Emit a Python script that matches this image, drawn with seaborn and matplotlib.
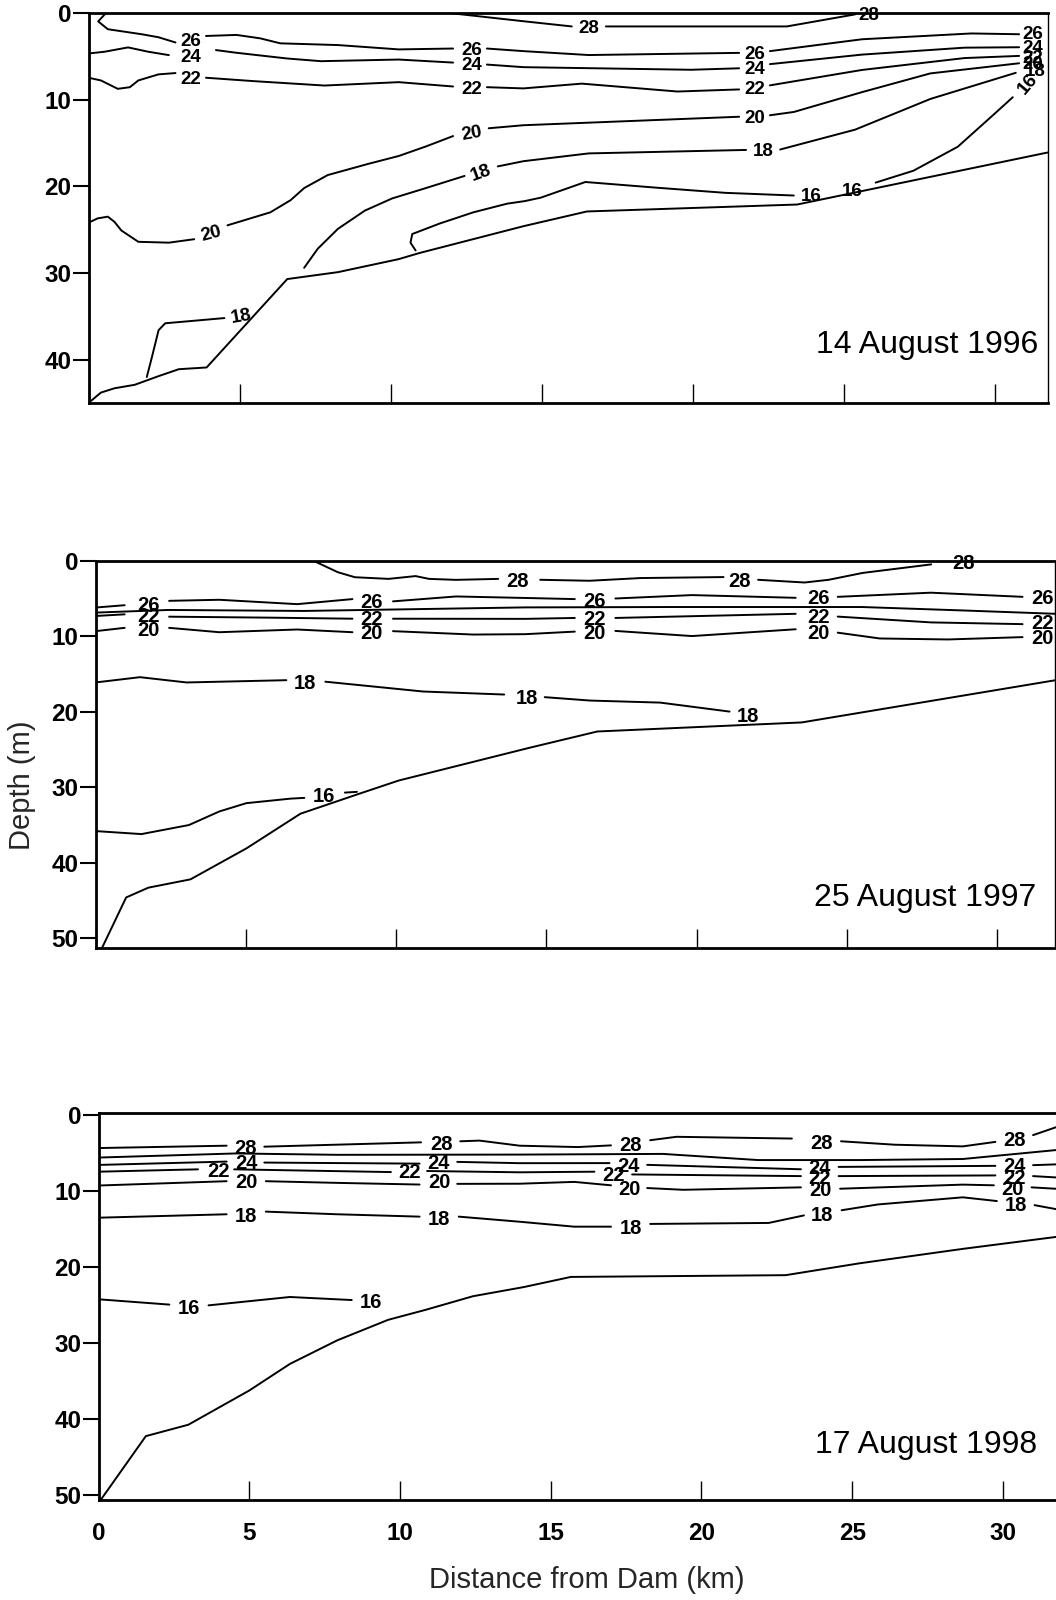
import matplotlib
matplotlib.use("Agg")
import matplotlib.pyplot as plt
import seaborn as sns
import pandas as pd

sns.set_theme(style="white")
plt.rcParams["font.family"] = ["Liberation Sans", "DejaVu Sans"]
LBL_FAMILY = ["Liberation Sans", "DejaVu Sans"]

# ---------------- data: distance (km), depth (m) ----------------
DATES = ["14 August 1996", "25 August 1997", "17 August 1998"]
X_TICKS = [0, 5, 10, 15, 20, 25, 30]
Y_TICKS_1 = [0, 10, 20, 30, 40]
Y_TICKS_23 = [0, 10, 20, 30, 40, 50]

# ---- Panel 1 (1996) ----
P1_BOTTOM = [[(0, 45.0), (0.41, 43.8), (0.86, 43.3), (1.53, 42.9), (2.32, 41.9), (2.99, 41.1),
              (3.91, 40.9), (6.58, 30.7), (8.26, 29.9), (10.27, 28.4), (10.95, 27.7),
              (14.4, 24.6), (16.5, 22.9), (23.46, 22.1), (31.75, 16.1)]]
P1_T28 = [[(11.94, 0), (14.4, 0.95), (16.0, 1.55)],
          [(17.13, 1.55), (23.12, 1.55), (25.38, 0.16)]]
P1_T26 = [[(0.58, 0), (0.32, 0.97), (0.64, 1.87), (1.76, 2.45), (2.32, 2.8), (2.88, 3.4)],
          [(3.89, 2.65), (4.9, 2.53), (5.68, 2.92), (6.35, 3.5), (8.26, 3.7), (10.27, 4.2), (12.07, 4.1)],
          [(13.19, 4.1), (14.4, 4.4), (16.56, 4.85), (21.54, 4.6)],
          [(22.56, 4.4), (25.61, 3.03), (29.23, 2.36), (30.81, 2.45)]]
P1_T24 = [[(0, 4.67), (0.53, 4.47), (1.31, 3.97), (1.98, 4.47), (2.66, 4.86)],
          [(4.22, 4.28), (4.9, 4.59), (6.58, 5.25), (7.7, 5.56), (10.27, 5.37), (12.07, 5.72)],
          [(13.19, 5.95), (14.4, 6.25), (19.95, 6.55), (21.54, 6.38)],
          [(22.56, 5.9), (25.61, 4.8), (29.0, 4.0), (30.81, 3.95)]]
P1_T22 = [[(0, 7.47), (0.41, 7.78), (0.97, 8.75), (1.37, 8.56), (1.65, 7.78), (2.32, 7.08), (2.88, 6.93)],
          [(3.89, 7.47), (5.46, 7.86), (7.81, 8.37), (10.27, 7.98), (12.07, 8.48)],
          [(13.19, 8.56), (14.4, 8.7), (16.33, 8.15), (17.69, 8.54), (19.5, 9.06), (21.54, 8.82)],
          [(22.56, 8.35), (25.61, 6.57), (29.0, 5.2), (30.81, 4.95)]]
P1_T20 = [[(0, 24.2), (0.3, 23.7), (0.64, 23.5), (0.86, 24.1), (1.09, 25.1), (1.65, 26.4), (2.66, 26.5), (3.5, 26.1)],
          [(4.6, 24.5), (6.02, 23.0), (6.69, 21.6), (7.14, 20.2), (7.92, 18.7), (9.27, 17.4),
           (10.27, 16.5), (11.17, 15.4), (12.07, 14.2)],
          [(13.25, 13.3), (14.4, 12.95), (21.54, 11.97)],
          [(22.56, 11.8), (23.35, 11.42), (25.61, 9.13), (27.87, 6.97), (30.81, 5.8)]]
P1_T18 = [[(7.14, 29.4), (7.59, 27.2), (8.26, 24.9), (9.15, 22.8), (10.05, 21.4), (11.17, 20.2), (12.45, 18.8)],
          [(13.55, 17.7), (14.4, 17.1), (16.56, 16.2), (21.77, 15.8)],
          [(22.9, 15.75), (25.38, 13.46), (27.87, 9.92), (30.7, 6.9)],
          [(1.93, 42.0), (2.1, 39.7), (2.32, 36.6), (2.54, 35.8), (3.2, 35.6), (4.5, 35.2)]]
P1_T16 = [[(10.83, 27.4), (10.66, 26.5), (10.72, 25.5), (11.62, 24.3), (12.74, 23.0), (13.86, 22.0),
           (14.45, 21.7), (14.98, 21.3), (16.45, 19.5), (18.82, 20.16), (21.08, 20.75), (23.35, 21.06)],
          [(26.06, 19.57), (27.31, 18.2), (28.78, 15.43), (29.91, 11.9), (30.6, 9.72)]]
P1_LABELS = [(16.55, 1.6, "28", 0), (25.85, 0.0, "28", 0),
             (3.38, 3.05, "26", 0), (12.68, 4.1, "26", 0), (22.05, 4.55, "26", 0), (31.25, 2.3, "26", 0),
             (3.38, 4.9, "24", 0), (12.68, 5.84, "24", 0), (22.05, 6.3, "24", 0), (31.25, 3.85, "24", 0),
             (3.38, 7.4, "22", 0), (12.68, 8.64, "22", 0), (22.05, 8.6, "22", 0), (31.25, 4.97, "22", 0),
             (4.06, 25.3, "20", 15), (12.68, 13.7, "20", 10), (22.05, 11.97, "20", 0), (31.25, 5.75, "20", 0),
             (12.99, 18.3, "18", 20), (22.33, 15.8, "18", 0), (31.35, 6.55, "18", 0), (5.04, 34.8, "18", 10),
             (23.92, 20.94, "16", 0), (25.27, 20.35, "16", 0), (31.05, 8.1, "16", 50)]

# ---- Panel 2 (1997) ----
P2_BOTTOM = [[(0.18, 51.6), (1.02, 44.6), (1.76, 43.3), (3.16, 42.2), (5.02, 38.1), (6.82, 33.5),
              (8.74, 30.9), (10.09, 29.1), (14.4, 24.8), (16.7, 22.6), (23.5, 21.4), (31.95, 15.8)]]
P2_T28 = [[(7.27, 0), (8.06, 1.48), (8.63, 2.15), (9.75, 2.37), (10.65, 2.0), (11.1, 2.37), (12.0, 2.5), (13.4, 2.37)],
          [(14.8, 2.49), (16.44, 2.62), (18.14, 2.26), (20.9, 2.13)],
          [(22.05, 2.49), (23.6, 2.85), (24.4, 2.49), (25.53, 1.58), (27.81, 0.45)]]
P2_T26 = [[(0, 6.17), (0.97, 5.86)],
          [(2.45, 5.28), (4.12, 5.14), (6.71, 5.72), (8.55, 5.05)],
          [(9.9, 5.35), (12.0, 4.7), (14.3, 4.9), (15.95, 5.05)],
          [(17.3, 4.97), (19.85, 4.52), (23.3, 4.88)],
          [(24.7, 4.75), (27.8, 4.2), (30.85, 4.75)]]
P2_T24 = [[(0, 6.84), (2.43, 6.49), (6.94, 6.62), (14.3, 6.15), (19.1, 6.1), (25.5, 6.1), (28.9, 6.56), (31.95, 7.0)]]
P2_T22 = [[(0, 7.29), (0.97, 7.07)],
          [(2.45, 7.38), (5.81, 7.51), (8.55, 7.65)],
          [(9.9, 7.65), (14.3, 7.67), (15.95, 7.55)],
          [(17.3, 7.55), (23.3, 7.0)],
          [(24.7, 7.37), (27.81, 8.14), (30.85, 8.37)]]
P2_T20 = [[(0, 9.3), (0.97, 8.86)],
          [(2.45, 8.86), (4.12, 9.44), (6.71, 9.08), (8.55, 9.44)],
          [(9.9, 9.3), (12.57, 9.75), (14.3, 9.7), (15.95, 9.36)],
          [(17.3, 9.27), (19.85, 9.95), (23.3, 9.05)],
          [(24.7, 9.5), (26.1, 10.27), (28.37, 10.4), (30.85, 10.09)]]
P2_T18 = [[(0, 16.1), (1.48, 15.4), (3.03, 16.1), (6.35, 15.8)],
          [(7.65, 16.0), (10.9, 17.3), (13.6, 17.7)],
          [(14.95, 18.05), (16.46, 18.5), (18.79, 18.77), (21.1, 19.96)]]
P2_T16 = [[(0, 35.8), (1.53, 36.2), (3.11, 35.0), (4.12, 33.2), (5.02, 32.1), (6.49, 31.5), (6.95, 31.4)],
          [(8.3, 30.7), (8.7, 30.6)]]
P2_LABELS = [(14.05, 2.4, "28", 0), (21.44, 2.4, "28", 0), (28.89, 0.1, "28", 0),
             (1.76, 5.6, "26", 0), (9.19, 5.2, "26", 0), (16.61, 5.1, "26", 0), (24.06, 4.75, "26", 0), (31.5, 4.7, "26", 0),
             (1.76, 7.1, "22", 0), (9.19, 7.5, "22", 0), (16.61, 7.5, "22", 0), (24.06, 7.2, "22", 0), (31.5, 8.0, "22", 0),
             (1.76, 8.9, "20", 0), (9.19, 9.4, "20", 0), (16.61, 9.3, "20", 0), (24.06, 9.3, "20", 0), (31.5, 9.95, "20", 0),
             (6.97, 16.0, "18", 0), (14.35, 18.0, "18", 0), (21.72, 20.4, "18", 0),
             (7.6, 31.0, "16", 0)]

# ---- Panel 3 (1998) ----
P3_BOTTOM = [[(0, 51.0), (1.57, 42.2), (2.98, 40.7), (5.0, 36.2), (6.35, 32.7), (7.92, 29.6), (9.61, 26.9),
              (10.84, 25.6), (12.42, 23.8), (14.1, 22.6), (15.67, 21.26), (22.79, 21.03), (25.26, 19.46),
              (28.67, 17.57), (31.96, 15.9)]]
P3_T28 = [[(0, 4.31), (4.25, 4.0)],
          [(5.5, 4.13), (10.7, 3.56)],
          [(12.0, 3.42), (12.64, 3.33), (13.97, 4.0), (15.9, 4.18), (17.0, 3.96)],
          [(18.3, 3.28), (19.17, 2.83), (23.0, 3.06)],
          [(24.63, 3.42), (26.41, 3.87), (28.67, 4.09), (29.75, 3.5)],
          [(31.0, 2.61), (31.96, 1.3)]]
P3_T26 = [[(0, 5.56), (4.55, 5.02), (7.92, 5.2), (13.97, 5.17), (18.72, 5.08), (21.88, 5.89),
           (25.26, 5.89), (28.67, 5.75), (31.96, 4.5)]]
P3_T24 = [[(0, 6.53), (4.25, 6.09)],
          [(5.5, 6.22), (10.65, 6.36)],
          [(11.9, 6.13), (13.97, 6.3), (16.95, 6.29)],
          [(18.2, 6.52), (23.3, 7.1)],
          [(24.55, 6.79), (29.75, 6.65)],
          [(31.0, 6.56), (31.96, 6.43)]]
P3_T22 = [[(0, 7.42), (3.3, 7.11)],
          [(4.5, 7.11), (9.7, 7.47)],
          [(10.9, 7.33), (13.97, 7.5), (16.45, 7.42)],
          [(17.7, 7.78), (23.3, 8.0)],
          [(24.55, 8.0), (29.75, 7.91)],
          [(31.0, 8.0), (31.96, 8.22)]]
P3_T20 = [[(0, 9.24), (4.25, 8.67)],
          [(5.55, 8.67), (7.92, 8.89), (10.65, 9.11)],
          [(11.9, 9.02), (13.97, 9.0), (15.78, 8.76), (17.0, 9.21)],
          [(18.2, 9.57), (19.4, 9.8), (23.3, 9.48)],
          [(24.6, 9.66), (28.67, 9.12), (29.7, 9.21)],
          [(30.95, 9.48), (31.96, 9.71)]]
P3_T18 = [[(0, 13.47), (4.25, 13.02)],
          [(5.55, 12.67), (7.92, 13.02), (10.65, 13.33)],
          [(11.95, 13.33), (13.97, 14.0), (15.78, 14.65), (17.0, 14.65)],
          [(18.3, 14.29), (22.23, 14.16), (23.4, 13.17)],
          [(24.65, 12.49), (25.85, 11.73), (28.67, 10.79), (29.8, 11.28)],
          [(31.05, 11.82), (31.96, 12.49)]]
P3_T16 = [[(0, 24.2), (2.35, 24.9)],
          [(3.65, 25.0), (6.35, 23.9), (8.4, 24.3)]]
P3_LABELS = [(4.89, 4.07, "28", 0), (11.38, 3.6, "28", 0), (17.65, 3.73, "28", 0), (23.97, 3.42, "28", 0), (30.37, 3.06, "28", 0),
             (4.92, 6.1, "24", 0), (11.27, 6.1, "24", 0), (17.59, 6.52, "24", 0), (23.92, 6.79, "24", 0), (30.37, 6.52, "24", 0),
             (3.97, 7.1, "22", 0), (10.33, 7.2, "22", 0), (17.08, 7.69, "22", 0), (23.92, 8.0, "22", 0), (30.37, 8.0, "22", 0),
             (4.92, 8.6, "20", 0), (11.3, 8.6, "20", 0), (17.6, 9.48, "20", 0), (23.95, 9.57, "20", 0), (30.31, 9.48, "20", 0),
             (4.89, 13.02, "18", 0), (11.29, 13.42, "18", 0), (17.65, 14.61, "18", 0), (24.01, 12.94, "18", 0), (30.42, 11.6, "18", 0),
             (3.0, 25.1, "16", 0), (9.04, 24.4, "16", 0)]

PANELS = [
    dict(lines=[P1_BOTTOM, P1_T28, P1_T26, P1_T24, P1_T22, P1_T20, P1_T18, P1_T16], labels=P1_LABELS,
         rect=[88.5, 13, 1047.5, 403], xlim=(0, 31.75), ylim=(45.0, 0), yticks=Y_TICKS_1,
         date=DATES[0], date_pos=(31.44, 39.25), lblsize=13.5),
    dict(lines=[P2_BOTTOM, P2_T28, P2_T26, P2_T24, P2_T22, P2_T20, P2_T18, P2_T16], labels=P2_LABELS,
         rect=[95.5, 561, 1055, 948], xlim=(0, 31.93), ylim=(51.3, 0), yticks=Y_TICKS_23,
         date=DATES[1], date_pos=(31.3, 45.7), lblsize=14.5),
    dict(lines=[P3_BOTTOM, P3_T28, P3_T26, P3_T24, P3_T22, P3_T20, P3_T18, P3_T16], labels=P3_LABELS,
         rect=[98.5, 1113, 1062, 1500], xlim=(0, 31.96), ylim=(50.6, -0.3), yticks=Y_TICKS_23,
         date=DATES[2], date_pos=(31.12, 44.4), lblsize=14.5),
]

W, H = 1056, 1600
fig = plt.figure(figsize=(W / 100, H / 100), dpi=100)
fig.patch.set_facecolor("white")
TICK_FS = 17.5

for i, p in enumerate(PANELS):
    l, t, r, b = p["rect"]
    ax = fig.add_axes([l / W, 1 - b / H, (r - l) / W, (b - t) / H])
    ax.set_facecolor("white")
    rows = []
    seg = 0
    for line in p["lines"]:
        for s in line:
            for (x, y) in s:
                rows.append((seg, x, y))
            seg += 1
    df = pd.DataFrame(rows, columns=["seg", "km", "depth"])
    sns.lineplot(data=df, x="km", y="depth", units="seg", estimator=None, sort=False,
                 color="black", linewidth=1.4, ax=ax, legend=False)
    for (x, y, s, rot) in p["labels"]:
        ax.text(x, y, s, ha="center", va="center_baseline", rotation=rot, rotation_mode="anchor",
                fontsize=p["lblsize"], fontweight="bold", family=LBL_FAMILY, color="black", clip_on=False)
    ax.text(p["date_pos"][0], p["date_pos"][1], p["date"], ha="right", va="baseline",
            fontsize=23, color="black")
    ax.set_xlim(*p["xlim"])
    ax.set_ylim(*p["ylim"])
    ax.set_xlabel("")
    ax.set_ylabel("")
    ax.set_yticks(p["yticks"])
    ax.set_yticklabels([str(v) for v in p["yticks"]], fontsize=TICK_FS, fontweight="bold", family=LBL_FAMILY)
    ax.set_xticks(X_TICKS)
    ax.tick_params(axis="y", direction="out", length=11.5, width=1.5, pad=1.0, left=True, colors="black")
    ax.tick_params(axis="x", direction="in", length=13.5, width=1.0, bottom=True, pad=16, colors="black")
    if i < 2:
        ax.set_xticklabels([])
    else:
        ax.set_xticklabels([str(v) for v in X_TICKS], fontsize=TICK_FS, fontweight="bold", family=LBL_FAMILY)
    for name, sp in ax.spines.items():
        sp.set_visible(True)
        sp.set_color("black")
        sp.set_linewidth(2.0 if name != "right" else 1.0)
    ax.grid(False)

fig.text(22 / W, 1 - 785 / H, "Depth (m)", rotation=90, ha="center", va="center", fontsize=21)
fig.text(587 / W, 1 - 1580 / H, "Distance from Dam (km)", ha="center", va="center", fontsize=21)

fig.savefig("out.png", dpi=100, facecolor="white")
